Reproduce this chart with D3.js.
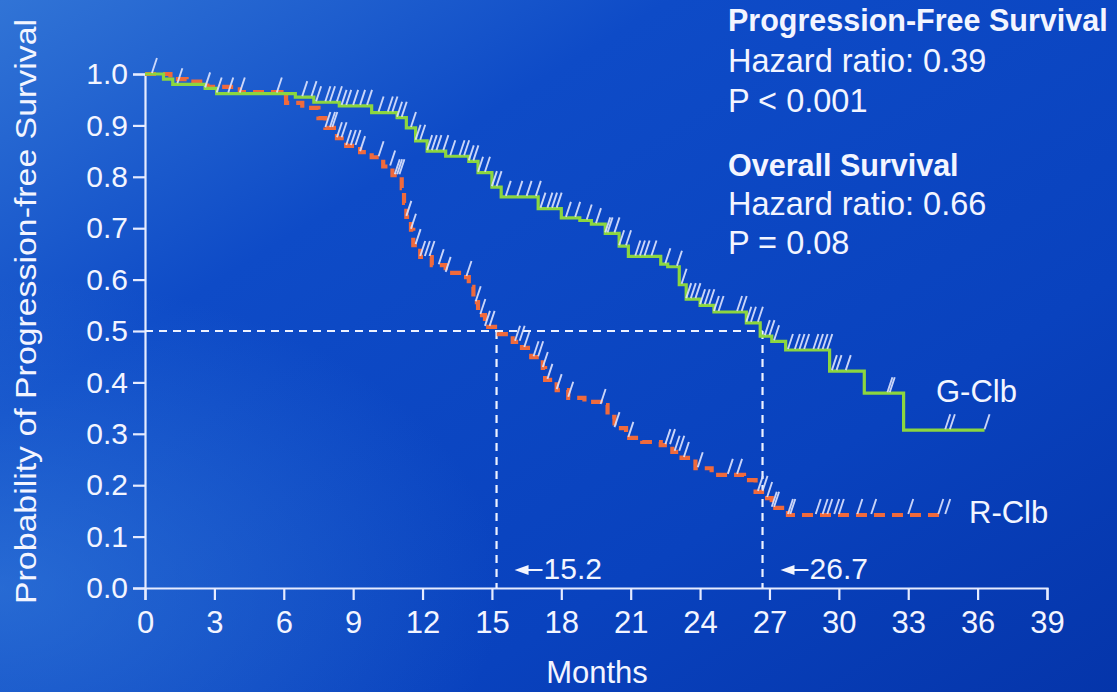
<!DOCTYPE html>
<html>
<head>
<meta charset="utf-8">
<script src="https://cdn.jsdelivr.net/npm/d3@7"></script>
<style>
	body { margin: 0; overflow: hidden; }
	svg text { font-family: "Liberation Sans", Arial, sans-serif; fill: #f3f5ff; }
</style>
</head>
<body>
<svg id="km" width="1117" height="692"></svg>
<script>
// step points of the two Kaplan-Meier curves: [month, survival]
var gClb = [[0, 1.0], [0.8, 0.99], [1.2, 0.98], [2.6, 0.972], [3.1, 0.962], [6.5, 0.955], [7.3, 0.945],
	[8.4, 0.938], [9.8, 0.925], [10.9, 0.915], [11.3, 0.895], [11.7, 0.87], [12.2, 0.85], [13.0, 0.84],
	[14.0, 0.83], [14.4, 0.808], [15.0, 0.78], [15.4, 0.761], [17.0, 0.738], [18.0, 0.72], [18.8, 0.715],
	[19.3, 0.708], [19.9, 0.69], [20.5, 0.665], [20.9, 0.645], [22.3, 0.63], [22.6, 0.625], [23.1, 0.59],
	[23.4, 0.562], [24.0, 0.55], [24.6, 0.537], [26.0, 0.516], [26.6, 0.49], [27.1, 0.48], [27.7, 0.463],
	[29.6, 0.422], [31.1, 0.379], [32.8, 0.307], [36.3, 0.307]];

var rClb = [[0, 1.0], [1.1, 0.99], [1.8, 0.985], [2.7, 0.975], [4.1, 0.965], [5.9, 0.955], [6.1, 0.944],
	[6.8, 0.934], [7.5, 0.914], [7.8, 0.895], [8.3, 0.875], [8.7, 0.86], [9.3, 0.848], [9.8, 0.838],
	[10.3, 0.82], [10.7, 0.803], [11.1, 0.778], [11.2, 0.749], [11.3, 0.722], [11.5, 0.697], [11.6, 0.667],
	[11.9, 0.644], [12.4, 0.628], [13.0, 0.613], [13.7, 0.605], [14.0, 0.586], [14.2, 0.556], [14.4, 0.531],
	[14.7, 0.508], [15.3, 0.494], [15.9, 0.479], [16.3, 0.467], [16.7, 0.449], [17.2, 0.428], [17.3, 0.405],
	[17.8, 0.385], [18.3, 0.37], [19.0, 0.362], [19.7, 0.356], [20.0, 0.333], [20.3, 0.311], [20.8, 0.292],
	[21.5, 0.284], [22.3, 0.278], [22.8, 0.265], [23.2, 0.253], [23.8, 0.233], [24.5, 0.22], [25.9, 0.21],
	[26.4, 0.187], [26.8, 0.175], [27.1, 0.156], [27.8, 0.142], [34.6, 0.142]];

// censored observations (months)
var gCensor = [0.3, 1.4, 2.6, 3.1, 3.6, 4.1, 5.7, 6.8, 7.2, 7.4, 7.8, 8.0, 8.3, 8.5, 8.7, 9.0, 9.3, 9.6,
	10.1, 10.5, 10.7, 10.9, 11.1, 11.5, 11.7, 11.9, 12.2, 12.4, 12.6, 12.9, 13.2, 13.6, 13.8, 14.0, 14.2,
	14.4, 14.7, 15.0, 15.2, 15.6, 16.1, 16.5, 16.9, 17.1, 17.4, 17.6, 17.8, 18.2, 18.6, 19.1, 19.5, 19.9,
	20.0, 20.3, 20.5, 20.8, 21.2, 21.4, 21.6, 21.9, 22.5, 23.0, 23.2, 23.4, 23.6, 23.8, 24.0, 24.2, 24.4,
	24.6, 24.8, 25.6, 25.8, 26.0, 26.2, 26.5, 26.8, 27.0, 27.2, 27.8, 28.1, 28.3, 28.5, 28.9, 29.1, 29.3,
	29.5, 29.7, 29.9, 30.3, 32.1, 32.2, 34.6, 34.8, 36.3];
var rCensor = [7.8, 8.0, 8.1, 8.3, 8.5, 8.7, 8.9, 9.1, 9.3, 10.1, 10.6, 10.8, 10.9, 11.0, 11.3, 11.5, 11.7,
	11.9, 12.1, 12.3, 12.7, 13.0, 13.9, 14.3, 14.5, 14.7, 14.9, 16.0, 16.2, 16.4, 16.8, 17.0, 17.2, 17.4,
	17.8, 18.3, 19.7, 20.3, 20.9, 22.5, 22.7, 22.9, 23.1, 23.3, 23.9, 25.2, 25.6, 26.5, 26.7, 26.9, 27.1,
	27.2, 27.8, 27.9, 29.0, 29.3, 29.5, 29.8, 30.0, 30.8, 31.4, 33.0, 34.3, 34.6];

var monthTicks = d3.range(0, 40, 3);
var survTicks = d3.range(0, 11).map(function(d) { return d / 10; });
var medians = [15.2, 26.7];

var legendLines = [
	{ text: "Progression-Free Survival", bold: true, y: 31 },
	{ text: "Hazard ratio: 0.39", bold: false, y: 72 },
	{ text: "P < 0.001", bold: false, y: 112 },
	{ text: "Overall Survival", bold: true, y: 176 },
	{ text: "Hazard ratio: 0.66", bold: false, y: 215 },
	{ text: "P = 0.08", bold: false, y: 254 }
];

var svg = d3.select("#km"),
	width = +svg.attr("width"),
	height = +svg.attr("height");

// background
var defs = svg.append("defs");
var bg = defs.append("linearGradient").attr("id", "bg")
	.attr("x1", "0").attr("y1", "0").attr("x2", "1").attr("y2", "1");
bg.append("stop").attr("offset", "0").attr("stop-color", "#3174d6");
bg.append("stop").attr("offset", "0.3").attr("stop-color", "#0e4bc7");
bg.append("stop").attr("offset", "0.7").attr("stop-color", "#0942be");
bg.append("stop").attr("offset", "1").attr("stop-color", "#0535aa");
var glow = defs.append("radialGradient").attr("id", "glow")
	.attr("cx", "0").attr("cy", "0.85").attr("r", "0.45");
glow.append("stop").attr("offset", "0").attr("stop-color", "#3d86e0").attr("stop-opacity", 0.55);
glow.append("stop").attr("offset", "1").attr("stop-color", "#3d86e0").attr("stop-opacity", 0);
svg.append("rect").attr("width", width).attr("height", height).attr("fill", "url(#bg)");
svg.append("rect").attr("width", width).attr("height", height).attr("fill", "url(#glow)");

var x = d3.scaleLinear().domain([0, 39]).range([145, 1047]);
var y = d3.scaleLinear().domain([0, 1]).range([588, 74]);

var axisColor = "#e6ebff";

// axes
var gy = svg.append("g").attr("transform", "translate(" + x(0) + ",0)")
	.call(d3.axisLeft(y).tickValues(survTicks).tickFormat(d3.format(".1f")).tickSize(12).tickPadding(5));
var gx = svg.append("g").attr("transform", "translate(0," + y(0) + ")")
	.call(d3.axisBottom(x).tickValues(monthTicks).tickSize(12).tickPadding(11));
[gy, gx].forEach(function(g) {
	g.select(".domain").attr("stroke", axisColor).attr("stroke-width", 2.2);
	g.selectAll(".tick line").attr("stroke", axisColor).attr("stroke-width", 2.2);
	g.selectAll(".tick text").attr("fill", "#f3f5ff").style("font-size", "30px");
});
gx.selectAll(".tick text").style("font-size", "31px");

svg.append("text")
	.attr("transform", "translate(36," + ((18 + 605) / 2) + ") rotate(-90)")
	.attr("text-anchor", "middle")
	.attr("textLength", 585).attr("lengthAdjust", "spacingAndGlyphs")
	.style("font-size", "30px")
	.text("Probability of Progression-free Survival");

svg.append("text")
	.attr("x", 597).attr("y", 683)
	.attr("text-anchor", "middle")
	.style("font-size", "31px")
	.text("Months");

// median reference lines
var ref = svg.append("g").attr("stroke", "#eef2ff").attr("stroke-width", 2.2)
	.attr("stroke-dasharray", "8,6").attr("fill", "none");
ref.append("line").attr("x1", x(0)).attr("x2", x(medians[1])).attr("y1", y(0.5)).attr("y2", y(0.5));
medians.forEach(function(m) {
	ref.append("line").attr("x1", x(m)).attr("x2", x(m)).attr("y1", y(0.5)).attr("y2", y(0));
});

// step lookup for censor ticks
function survAt(curve, t) {
	var s = curve[0][1];
	for (var i = 0; i < curve.length; ++i) {
		if (curve[i][0] <= t) s = curve[i][1];
	}
	return s;
}

var line = d3.line()
	.x(function(d) { return x(d[0]); })
	.y(function(d) { return y(d[1]); })
	.curve(d3.curveStepAfter);

svg.append("path").attr("d", line(rClb))
	.attr("fill", "none").attr("stroke", "#f06a3c").attr("stroke-width", 4.2)
	.attr("stroke-dasharray", "11,7");
svg.append("path").attr("d", line(gClb))
	.attr("fill", "none").attr("stroke", "#8cd63f").attr("stroke-width", 3.2);

function drawCensor(curve, times) {
	svg.append("g").selectAll("line").data(times).enter().append("line")
		.attr("x1", function(d) { return x(d); })
		.attr("y1", function(d) { return y(survAt(curve, d)) - 1; })
		.attr("x2", function(d) { return x(d) + 5; })
		.attr("y2", function(d) { return y(survAt(curve, d)) - 16; })
		.attr("stroke", "#dfe5ff").attr("stroke-width", 1.9).attr("opacity", 0.9);
}
drawCensor(rClb, rCensor);
drawCensor(gClb, gCensor);

// median labels with arrows
medians.forEach(function(m) {
	var x0 = x(m) + 18;
	svg.append("path")
		.attr("d", "M" + x0 + ",570 l14,-5 l0,10 z")
		.attr("fill", "#f3f5ff");
	svg.append("line").attr("x1", x0 + 12).attr("x2", x0 + 28).attr("y1", 570).attr("y2", 570)
		.attr("stroke", "#f3f5ff").attr("stroke-width", 2);
	svg.append("text").attr("x", x0 + 29).attr("y", 579)
		.style("font-size", "30px")
		.text(d3.format(".1f")(m));
});

// curve labels
svg.append("text").attr("x", 936).attr("y", 402).style("font-size", "31px").text("G-Clb");
svg.append("text").attr("x", 969).attr("y", 523).style("font-size", "31px").text("R-Clb");

// statistics block
svg.append("g").selectAll("text").data(legendLines).enter().append("text")
	.attr("x", 728)
	.attr("y", function(d) { return d.y; })
	.style("font-size", function(d) { return d.bold ? "30.5px" : "32.5px"; })
	.style("font-weight", function(d) { return d.bold ? "bold" : "normal"; })
	.text(function(d) { return d.text; });
</script>
</body>
</html>
